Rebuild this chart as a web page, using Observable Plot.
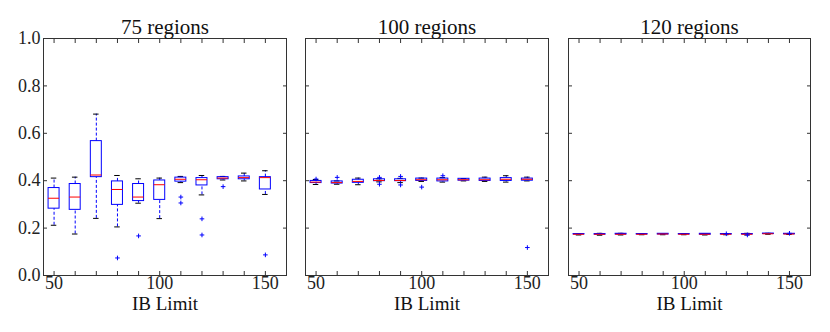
<!DOCTYPE html>
<html>
<head>
<meta charset="utf-8">
<script src="https://cdn.jsdelivr.net/npm/d3@7"></script>
<script src="https://cdn.jsdelivr.net/npm/@observablehq/plot@0.6"></script>
<style>
  body { margin: 0; background: #fff; }
  #wrap { display: flex; width: 830px; height: 332px; background: #fff; }
  #wrap svg { flex: none; }
</style>
</head>
<body>
<div id="wrap"></div>
<script>
// ---- data ----
const positions = [50, 60, 70, 80, 90, 100, 110, 120, 130, 140, 150];
const xTicks = [50, 60, 70, 80, 90, 100, 110, 120, 130, 140, 150];
const xLabelTicks = [50, 100, 150];
const yTicks = [0, 0.2, 0.4, 0.6, 0.8, 1.0];
const titles = ["75 regions", "100 regions", "120 regions"];
const xLabel = "IB Limit";

// 75 regions
const lo75  = [0.212, 0.175, 0.241, 0.205, 0.305, 0.240, 0.392, 0.340, 0.403, 0.399, 0.342];
const q1_75 = [0.282, 0.277, 0.415, 0.298, 0.314, 0.319, 0.396, 0.380, 0.406, 0.406, 0.363];
const med75 = [0.326, 0.331, 0.424, 0.363, 0.331, 0.383, 0.406, 0.404, 0.411, 0.413, 0.413];
const q3_75 = [0.369, 0.386, 0.567, 0.397, 0.386, 0.401, 0.413, 0.411, 0.415, 0.418, 0.415];
const hi75  = [0.411, 0.415, 0.681, 0.422, 0.408, 0.411, 0.418, 0.422, 0.418, 0.432, 0.442];
const outX75 = [80, 90, 110, 110, 120, 120, 130, 150];
const outY75 = [0.074, 0.167, 0.331, 0.306, 0.239, 0.171, 0.375, 0.087];

// 100 regions
const lo100  = [0.384, 0.385, 0.383, 0.395, 0.392, 0.397, 0.394, 0.399, 0.397, 0.394, 0.399];
const q1_100 = [0.390, 0.388, 0.391, 0.398, 0.398, 0.399, 0.397, 0.400, 0.399, 0.399, 0.400];
const med100 = [0.394, 0.392, 0.397, 0.401, 0.401, 0.404, 0.404, 0.404, 0.404, 0.406, 0.406];
const q3_100 = [0.399, 0.397, 0.404, 0.406, 0.406, 0.409, 0.409, 0.408, 0.409, 0.411, 0.409];
const hi100  = [0.405, 0.399, 0.411, 0.408, 0.410, 0.411, 0.413, 0.409, 0.415, 0.421, 0.415];
const outX100 = [50, 60, 80, 80, 90, 90, 100, 110, 150];
const outY100 = [0.407, 0.414, 0.414, 0.385, 0.418, 0.382, 0.373, 0.421, 0.118];

// 120 regions
const lo120  = [0.171, 0.170, 0.171, 0.172, 0.172, 0.172, 0.171, 0.172, 0.171, 0.174, 0.173];
const q1_120 = [0.173, 0.172, 0.173, 0.173, 0.173, 0.173, 0.172, 0.173, 0.173, 0.175, 0.174];
const med120 = [0.174, 0.174, 0.174, 0.174, 0.175, 0.174, 0.174, 0.174, 0.174, 0.176, 0.175];
const q3_120 = [0.175, 0.175, 0.176, 0.175, 0.176, 0.175, 0.176, 0.175, 0.175, 0.177, 0.176];
const hi120  = [0.176, 0.178, 0.178, 0.176, 0.177, 0.176, 0.177, 0.176, 0.178, 0.178, 0.177];
const outX120 = [120, 130, 150];
const outY120 = [0.176, 0.171, 0.178];

// ---- build ----
const panels = [
  {title: titles[0], lo: lo75, q1: q1_75, med: med75, q3: q3_75, hi: hi75, ox: outX75, oy: outY75},
  {title: titles[1], lo: lo100, q1: q1_100, med: med100, q3: q3_100, hi: hi100, ox: outX100, oy: outY100},
  {title: titles[2], lo: lo120, q1: q1_120, med: med120, q3: q3_120, hi: hi120, ox: outX120, oy: outY120}
];
const layouts = [
  {width: 300, marginLeft: 43, marginRight: 14},
  {width: 262, marginLeft: 5, marginRight: 14},
  {width: 268, marginLeft: 6, marginRight: 20}
];
const boxHalf = 2.6, capHalf = 1.3;

panels.forEach((p, i) => {
  const rows = positions.map((pos, j) => ({pos, lo: p.lo[j], q1: p.q1[j], med: p.med[j], q3: p.q3[j], hi: p.hi[j]}));
  const outs = p.ox.map((x, j) => ({x, y: p.oy[j]}));
  const L = layouts[i];
  const marks = [
    // whiskers
    Plot.ruleX(rows, {x: "pos", y1: "q3", y2: "hi", stroke: "#0000ff", strokeDasharray: "3,2"}),
    Plot.ruleX(rows, {x: "pos", y1: "lo", y2: "q1", stroke: "#0000ff", strokeDasharray: "3,2"}),
    // caps
    Plot.ruleY(rows, {y: "hi", x1: d => d.pos - capHalf, x2: d => d.pos + capHalf, stroke: "#000"}),
    Plot.ruleY(rows, {y: "lo", x1: d => d.pos - capHalf, x2: d => d.pos + capHalf, stroke: "#000"}),
    // boxes
    Plot.rect(rows, {x1: d => d.pos - boxHalf, x2: d => d.pos + boxHalf, y1: "q1", y2: "q3", fill: "none", stroke: "#0000ff"}),
    // medians
    Plot.ruleY(rows, {y: "med", x1: d => d.pos - boxHalf, x2: d => d.pos + boxHalf, stroke: "#ff0000"}),
    // outliers
    Plot.dot(outs, {x: "x", y: "y", symbol: "plus", r: 1.6, stroke: "#0000ff", strokeWidth: 1}),
    // tick lines (inward) on all four sides
    Plot.axisX({anchor: "bottom", ticks: xTicks, tickSize: -4, text: null, label: null}),
    Plot.axisX({anchor: "top", ticks: xTicks, tickSize: -4, text: null, label: null}),
    Plot.axisY({anchor: "left", ticks: yTicks, tickSize: -4, text: null, label: null}),
    Plot.axisY({anchor: "right", ticks: yTicks, tickSize: -4, text: null, label: null}),
    // tick labels
    Plot.axisX({anchor: "bottom", ticks: xLabelTicks, tickSize: 0, tickPadding: 1, label: null, fill: "#222"}),
    Plot.frame({stroke: "#333"}),
    // title and x label
    Plot.text([p.title], {text: d => d, frameAnchor: "top", lineAnchor: "middle", dy: -11.5, fontSize: 21, fill: "#111"}),
    Plot.text([xLabel], {text: d => d, frameAnchor: "bottom", lineAnchor: "middle", dy: 28, fontSize: 19, fill: "#111"})
  ];
  if (i === 0) {
    marks.push(Plot.axisY({anchor: "left", ticks: yTicks, tickSize: 0, tickPadding: 3, label: null,
      tickFormat: d3.format(".1f"), fill: "#222"}));
  }
  const chart = Plot.plot({
    width: L.width,
    height: 332,
    marginLeft: L.marginLeft,
    marginRight: L.marginRight,
    marginTop: 38,
    marginBottom: 57,
    style: {fontFamily: "'Liberation Serif', serif", fontSize: "18px", color: "#333", background: "#fff", overflow: "visible"},
    x: {domain: [45, 160]},
    y: {domain: [0, 1]},
    marks
  });
  document.getElementById("wrap").appendChild(chart);
});
</script>
</body>
</html>
